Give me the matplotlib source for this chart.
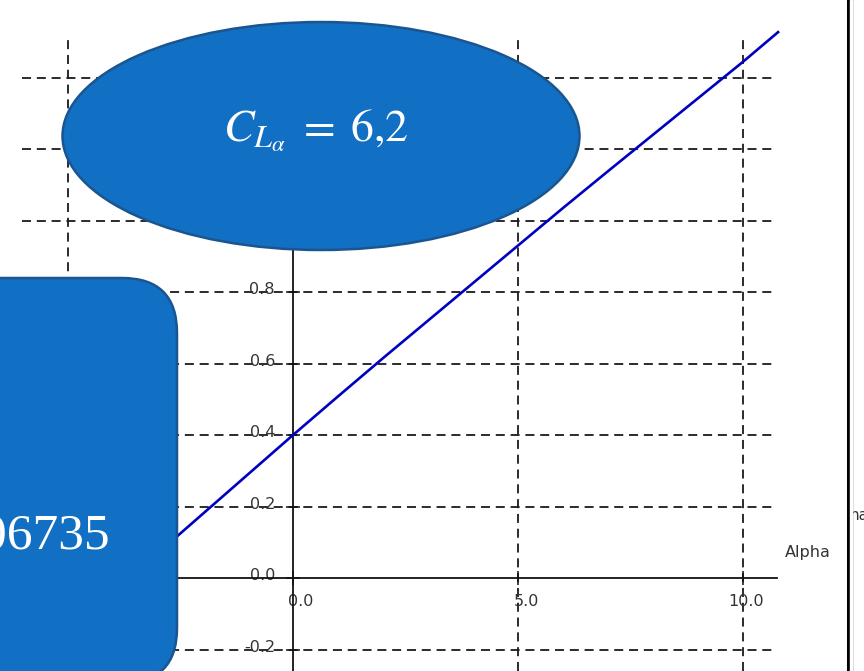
import matplotlib
matplotlib.use("Agg")
import matplotlib.pyplot as plt
from matplotlib.patches import Ellipse, FancyBboxPatch, Rectangle

plt.rcParams["mathtext.fontset"] = "stix"

# lift curve CL(alpha)
alpha = [-3.0, -2.0, -1.0, 0.0, 1.0, 2.0, 3.0, 4.0, 5.0, 6.0, 7.0, 8.0, 9.0, 10.0, 10.78]
cl = [0.07, 0.18, 0.29, 0.40, 0.508, 0.615, 0.72, 0.825, 0.93, 1.035, 1.138, 1.24, 1.342, 1.444, 1.527]

x_ticks = [-5.0, 0.0, 5.0, 10.0]
y_ticks = [-0.2, 0.0, 0.2, 0.4, 0.6, 0.8, 1.0, 1.2, 1.4]
x_labels = [0.0, 5.0, 10.0]
y_labels = [-0.2, 0.0, 0.2, 0.4, 0.6, 0.8]
x_grid = [-5.0, 5.0, 10.0]
y_grid = [-0.2, 0.2, 0.4, 0.6, 0.8, 1.0, 1.2, 1.4]

W, H = 864, 671
fig = plt.figure(figsize=(W / 100, H / 100), dpi=100)
fig.patch.set_facecolor("white")

ax = fig.add_axes([22 / W, 0, (777 - 22) / W, (H - 35) / H])
ax.set_xlim(-6.022, 10.756)
ax.set_ylim(-0.2601, 1.519)
ax.patch.set_alpha(0)

dash = (0, (5, 3.2))
for v in y_grid:
    ax.axhline(v, color="#1a1a1a", lw=1.3, ls=dash, zorder=1)
for v in x_grid:
    ax.axvline(v, color="#1a1a1a", lw=1.3, ls=dash, zorder=1)

for s in ["top", "right"]:
    ax.spines[s].set_visible(False)
ax.spines["left"].set_position(("data", 0))
ax.spines["bottom"].set_position(("data", 0))
for s in ["left", "bottom"]:
    ax.spines[s].set_linewidth(1.3)
    ax.spines[s].set_color("#111111")
ax.set_xticks(x_ticks)
ax.set_yticks(y_ticks)
ax.tick_params(direction="inout", length=10, width=1.1, colors="#111111",
               labelleft=False, labelbottom=False)

lab = dict(fontsize=11.5, color="#333333", family="DejaVu Sans", zorder=2)
for v in y_labels:
    ax.annotate(f"{v:.1f}", xy=(0, v), xytext=(-13, 1.5), textcoords="offset points",
                ha="right", va="center", **lab)
for v in x_labels:
    ax.annotate(f"{v:.1f}", xy=(v, 0), xytext=(15, -17), textcoords="offset points",
                ha="right", va="center", **lab)

ax.plot(alpha, cl, color="#0000c0", lw=1.9, clip_on=False, zorder=3)

fig.text(808 / W, 1 - 552 / H, "Alpha", ha="center", va="center",
         fontsize=11.5, color="#333333", family="DejaVu Sans")

# overlay in pixel units: annotation shapes and window border
ov = fig.add_axes([0, 0, 1, 1])
ov.set_xlim(0, W)
ov.set_ylim(H, 0)
ov.axis("off")

ov.plot([848, 848], [0, H], color="black", lw=2.2)
ov.plot([852, 852], [0, H], color="#d0d0d0", lw=2)
ov.text(850, 516, "na", ha="left", va="center", fontsize=11, color="#333333",
        family="DejaVu Sans", clip_on=True)
ov.add_patch(Rectangle((849.5, 0), 2, H, color="white", zorder=5))

fill = "#116fc4"
edge = "#1b5590"
ov.add_patch(Ellipse((321, 136), 517, 228, facecolor=fill, edgecolor=edge, lw=1.8, zorder=6))
ov.text(316, 131, r"$C_{L_\alpha}\;=\;6{,}2$", ha="center", va="center",
        fontsize=33, color="white", zorder=7)

ov.add_patch(FancyBboxPatch((-100, 278), 277, 405,
                            boxstyle="round,pad=0,rounding_size=55",
                            facecolor=fill, edgecolor=edge, lw=1.8, zorder=6))
ov.text(110, 536, "06735", ha="right", va="center", fontsize=37, color="white",
        family="Liberation Serif", zorder=7)

fig.savefig("out.png", dpi=100)
